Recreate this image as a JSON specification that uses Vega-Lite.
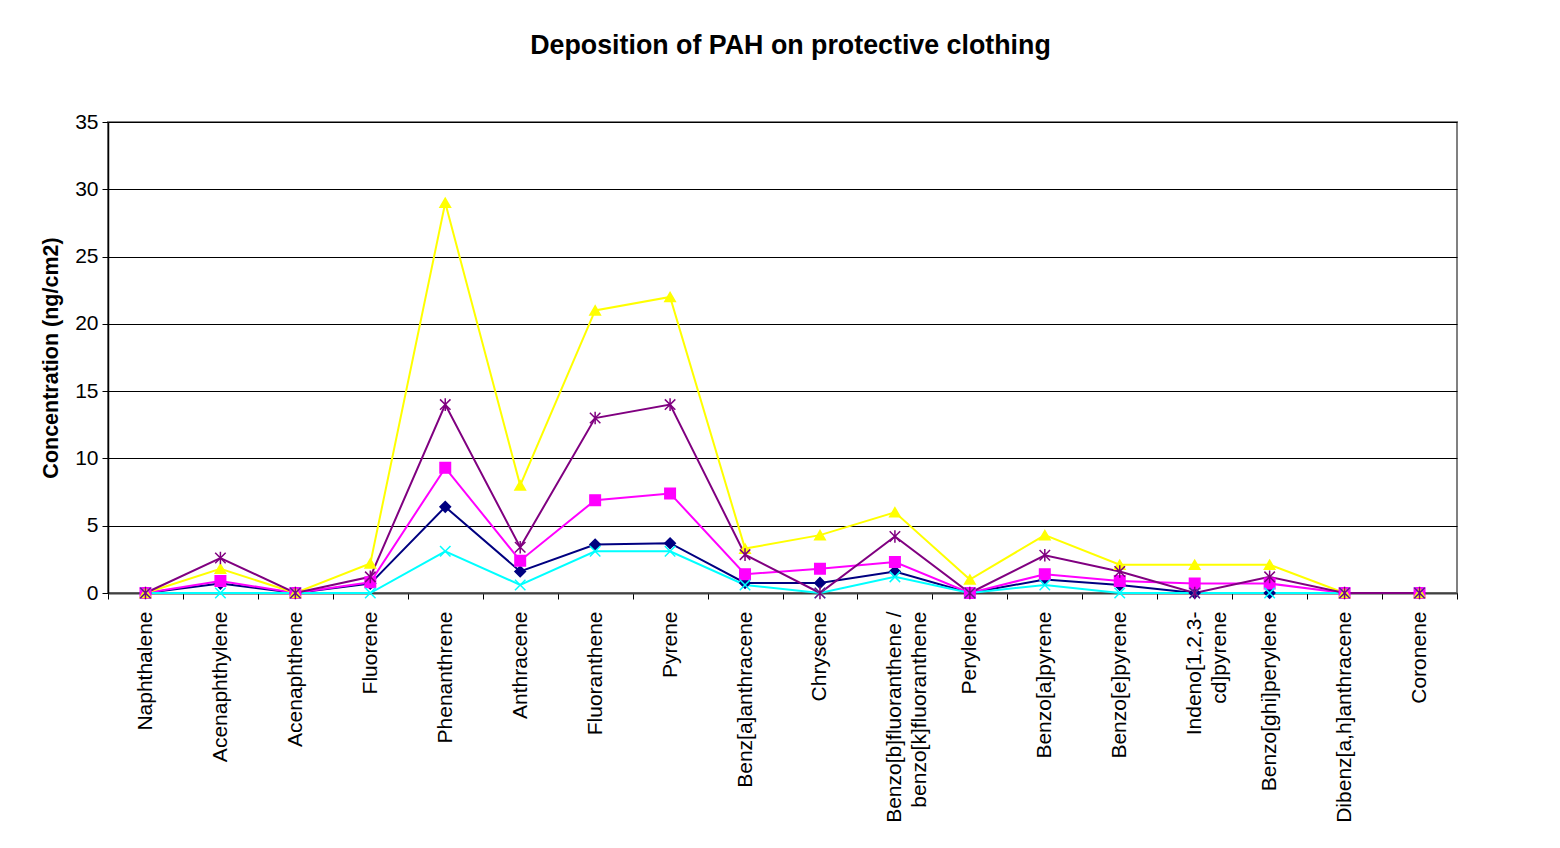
{
  "$schema": "https://vega.github.io/schema/vega-lite/v6.json",
  "width": 1349,
  "height": 471,
  "autosize": {"type": "none"},
  "padding": {"left": 108, "top": 122, "right": 103, "bottom": 255},
  "background": "white",
  "config": {
    "font": "Liberation Sans",
    "view": {"stroke": "#808080", "strokeWidth": 2}
  },
  "title": {
    "text": "Deposition of PAH on protective clothing",
    "fontSize": 26.8,
    "font": "Liberation Sans",
    "fontWeight": "bold",
    "color": "black",
    "offset": 51,
    "dx": 8
  },
  "data": {
    "values": [
      {"compound": "Naphthalene", "B1": 0, "B2": 0, "B3": 0, "B4": 0, "B5": 0},
      {"compound": "Acenaphthylene", "B1": 0.7, "B2": 0.9, "B3": 1.8, "B4": 0, "B5": 2.6},
      {"compound": "Acenaphthene", "B1": 0, "B2": 0, "B3": 0, "B4": 0, "B5": 0},
      {"compound": "Fluorene", "B1": 0.7, "B2": 0.8, "B3": 2.2, "B4": 0, "B5": 1.2},
      {"compound": "Phenanthrene", "B1": 6.4, "B2": 9.3, "B3": 29, "B4": 3.1, "B5": 14},
      {"compound": "Anthracene", "B1": 1.6, "B2": 2.4, "B3": 8, "B4": 0.6, "B5": 3.4},
      {"compound": "Fluoranthene", "B1": 3.6, "B2": 6.9, "B3": 21, "B4": 3.1, "B5": 13},
      {"compound": "Pyrene", "B1": 3.7, "B2": 7.4, "B3": 22, "B4": 3.1, "B5": 14},
      {"compound": "Benz[a]anthracene", "B1": 0.75, "B2": 1.4, "B3": 3.3, "B4": 0.6, "B5": 2.85},
      {"compound": "Chrysene", "B1": 0.75, "B2": 1.8, "B3": 4.3, "B4": 0, "B5": 0},
      {"compound": "Benzo[b]fluoranthene / benzo[k]fluoranthene", "B1": 1.6, "B2": 2.3, "B3": 6.0, "B4": 1.2, "B5": 4.2},
      {"compound": "Perylene", "B1": 0, "B2": 0, "B3": 1.0, "B4": 0, "B5": 0},
      {"compound": "Benzo[a]pyrene", "B1": 1.0, "B2": 1.4, "B3": 4.3, "B4": 0.6, "B5": 2.8},
      {"compound": "Benzo[e]pyrene", "B1": 0.6, "B2": 0.9, "B3": 2.1, "B4": 0, "B5": 1.6},
      {"compound": "Indeno[1,2,3-cd]pyrene", "B1": 0, "B2": 0.7, "B3": 2.1, "B4": 0, "B5": 0},
      {"compound": "Benzo[ghi]perylene", "B1": 0, "B2": 0.7, "B3": 2.1, "B4": 0, "B5": 1.2},
      {"compound": "Dibenz[a,h]anthracene", "B1": 0, "B2": 0, "B3": 0, "B4": 0, "B5": 0},
      {"compound": "Coronene", "B1": 0, "B2": 0, "B3": 0, "B4": 0, "B5": 0}
    ]
  },
  "transform": [{"fold": ["B1", "B2", "B3", "B4", "B5"], "as": ["series", "value"]}],
  "encoding": {
    "x": {
      "field": "compound",
      "type": "nominal",
      "sort": null,
      "scale": {"type": "band", "paddingInner": 0, "paddingOuter": 0},
      "axis": {
        "title": null,
        "labelAngle": -90,
        "labelFontSize": 21,
        "labelColor": "black",
        "labelPadding": 12,
        "labelLineHeight": 25,
        "labelLimit": 400,
        "tickBand": "extent",
        "tickSize": 6,
        "tickColor": "black",
        "domainColor": "#404040",
        "domainWidth": 2,
        "grid": false,
        "labelExpr": "datum.label == 'Benzo[b]fluoranthene / benzo[k]fluoranthene' ? ['Benzo[b]fluoranthene /', 'benzo[k]fluoranthene'] : datum.label == 'Indeno[1,2,3-cd]pyrene' ? ['Indeno[1,2,3-', 'cd]pyrene'] : datum.label"
      }
    },
    "y": {
      "field": "value",
      "type": "quantitative",
      "scale": {"domain": [0, 35], "nice": false},
      "axis": {
        "title": "Concentration (ng/cm2)",
        "titleFontSize": 21.5,
        "titleFontWeight": "bold",
        "titleColor": "black",
        "titlePadding": 12,
        "values": [0, 5, 10, 15, 20, 25, 30, 35],
        "labelFontSize": 21,
        "labelColor": "black",
        "labelPadding": 4,
        "tickSize": 6,
        "tickColor": "black",
        "domainColor": "black",
        "domainWidth": 1.5,
        "grid": true,
        "gridColor": "black",
        "gridWidth": 1.2,
        "gridOpacity": 1
      }
    }
  },
  "layer": [
    {
      "mark": {"type": "line", "strokeWidth": 2},
      "encoding": {
        "stroke": {
          "field": "series",
          "type": "nominal",
          "scale": {"domain": ["B1", "B2", "B3", "B4", "B5"], "range": ["#000080", "#FF00FF", "#FFFF00", "#00FFFF", "#800080"]},
          "legend": null
        }
      }
    },
    {
      "mark": {"type": "point", "filled": true, "size": 110, "strokeWidth": 1.5, "opacity": 1},
      "encoding": {
        "color": {
          "field": "series",
          "type": "nominal",
          "scale": {"domain": ["B1", "B2", "B3", "B4", "B5"], "range": ["#000080", "#FF00FF", "#FFFF00", "#00FFFF", "#800080"]},
          "legend": {"orient": "none", "legendX": 1367, "legendY": 146, "title": null, "labelFontSize": 21, "labelColor": "black", "padding": 8, "rowPadding": 14, "symbolSize": 130, "strokeColor": "black", "fillColor": "white"}
        },
        "stroke": {
          "field": "series",
          "type": "nominal",
          "legend": null
        },
        "shape": {
          "field": "series",
          "type": "nominal",
          "scale": {"domain": ["B1", "B2", "B3", "B4", "B5"], "range": ["diamond", "square", "triangle-up", "M-1,-1L1,1M-1,1L1,-1", "M-1,-1L1,1M-1,1L1,-1M0,-1.2L0,1.2"]},
          "legend": {"orient": "none", "legendX": 1367, "legendY": 146, "title": null, "labelFontSize": 21, "labelColor": "black", "padding": 8, "rowPadding": 14, "symbolSize": 130, "strokeColor": "black", "fillColor": "white"}
        }
      }
    }
  ]
}
